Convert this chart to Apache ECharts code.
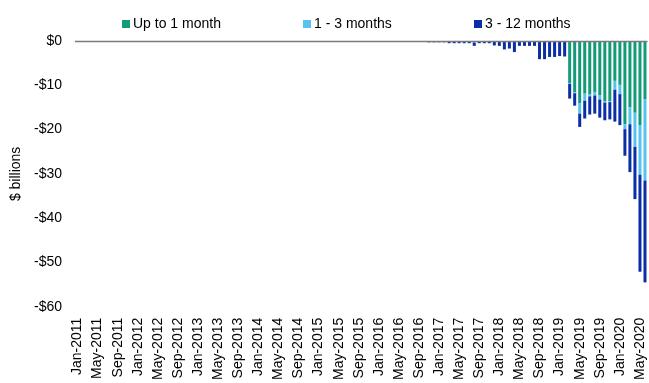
<!DOCTYPE html>
<html>
<head>
<meta charset="utf-8">
<script src="https://cdn.jsdelivr.net/npm/echarts@6/dist/echarts.min.js"></script>
<style>
  html, body { margin: 0; padding: 0; background: #fff; }
  #chart { width: 649px; height: 383px; }
</style>
</head>
<body>
<div id="chart"></div>
<script>
// Monthly categories, Jan-2011 through Jun-2020
const monthNames = ['Jan', 'Feb', 'Mar', 'Apr', 'May', 'Jun', 'Jul', 'Aug', 'Sep', 'Oct', 'Nov', 'Dec'];
const firstYear = 2011;
const lastYear = 2020;
const lastMonthOfLastYear = 6;

// Holdings by remaining maturity, $ billions, Nov-2016 onwards
const seriesStart = 'Nov-2016';
const upToOneMonth = [
  0, 0, 0, 0, 0, 0, 0, 0, 0, 0, 0, 0, 0, 0, 0, 0, 0, 0, 0, 0, 0, 0, 0, 0, 0, 0, 0, 0,
  -9.5, -11.6, -14.0, -11.9, -12.1, -11.5, -12.3, -13.6, -13.6, -9.0, -9.9, -18.8,
  -15.0, -16.2, -19.0, -13.2
];
const oneToThreeMonths = [
  0, 0, 0, 0, 0, 0, 0, 0, 0, -0.35, 0, 0, 0, 0, 0, 0, 0, 0, 0, 0, 0, 0, 0, 0, 0, 0, 0, 0,
  -0.2, -0.2, -2.4, -1.6, -0.4, -0.8, -0.9, -0.3, -0.2, -2.0, -2.1, -1.1,
  -3.8, -7.7, -11.2, -18.3
];
const threeToTwelveMonths = [
  -0.3, -0.3, -0.3, -0.3, -0.5, -0.5, -0.5, -0.5, -0.5, -0.75, -0.5, -0.5, -0.5, -1.0,
  -1.1, -1.9, -1.7, -2.5, -1.1, -1.1, -1.1, -1.1, -4.1, -4.1, -3.6, -3.6, -3.4, -3.5,
  -3.3, -2.8, -3.0, -4.0, -4.1, -4.1, -4.1, -4.0, -3.9, -7.2, -7.0, -6.0,
  -10.8, -11.8, -21.9, -23.0
];

const yTickMin = -60;
const yTickMax = 0;
const yTickStep = 10;

const seriesNames = ['Up to 1 month', '1 - 3 months', '3 - 12 months'];
const seriesColors = ['#139a78', '#56c2ee', '#0b2ea6'];

const categories = [];
for (let y = firstYear; y <= lastYear; y++) {
  const endM = (y === lastYear) ? lastMonthOfLastYear : 12;
  for (let m = 0; m < endM; m++) categories.push(monthNames[m] + '-' + y);
}

// Months before the series start have no holdings to draw
const offset = categories.indexOf(seriesStart);
function align(values) {
  const out = new Array(categories.length).fill(null);
  values.forEach((v, i) => { out[offset + i] = v; });
  return out;
}

const font = 'Arial, "Liberation Sans", sans-serif';
const chart = echarts.init(document.getElementById('chart'), null, { renderer: 'canvas' });

const series = [upToOneMonth, oneToThreeMonths, threeToTwelveMonths].map((vals, i) => ({
  name: seriesNames[i],
  type: 'bar',
  stack: 'maturity',
  barWidth: 3,
  itemStyle: { color: seriesColors[i] },
  data: align(vals),
  animation: false
}));
// Zero reference line across the plot
series[0].markLine = {
  silent: true,
  symbol: 'none',
  label: { show: false },
  lineStyle: { color: '#7a7a7a', width: 1.3, type: 'solid' },
  data: [{ yAxis: 0 }]
};

const legendLefts = [117, 298, 469];

chart.setOption({
  animation: false,
  textStyle: { fontFamily: font },
  legend: seriesNames.map((n, i) => ({
    data: [n],
    left: legendLefts[i],
    top: 12,
    icon: 'rect',
    itemWidth: 8,
    itemHeight: 8,
    itemGap: 0,
    selectedMode: false,
    textStyle: { fontSize: 14, color: '#000', fontFamily: font, padding: [0, 0, 0, -2] }
  })),
  grid: { left: 75, right: 1.5, top: 41, bottom: 73, containLabel: false },
  xAxis: {
    type: 'category',
    data: categories,
    axisLine: { show: false },
    axisTick: { show: false },
    axisLabel: {
      interval: 3,
      rotate: 90,
      margin: 11,
      fontSize: 14,
      color: '#000',
      fontFamily: font
    }
  },
  yAxis: {
    type: 'value',
    min: yTickMin,
    max: yTickMax,
    interval: yTickStep,
    name: '$ billions',
    nameLocation: 'middle',
    nameRotate: 90,
    nameGap: 51,
    nameTextStyle: { fontSize: 14, color: '#000', fontFamily: font },
    axisLine: { show: false },
    axisTick: { show: false },
    splitLine: { show: false },
    axisLabel: {
      margin: 13,
      fontSize: 14,
      color: '#000',
      fontFamily: font,
      formatter: v => v === 0 ? '$0' : '-$' + Math.abs(v)
    }
  },
  series: series
});
</script>
</body>
</html>
